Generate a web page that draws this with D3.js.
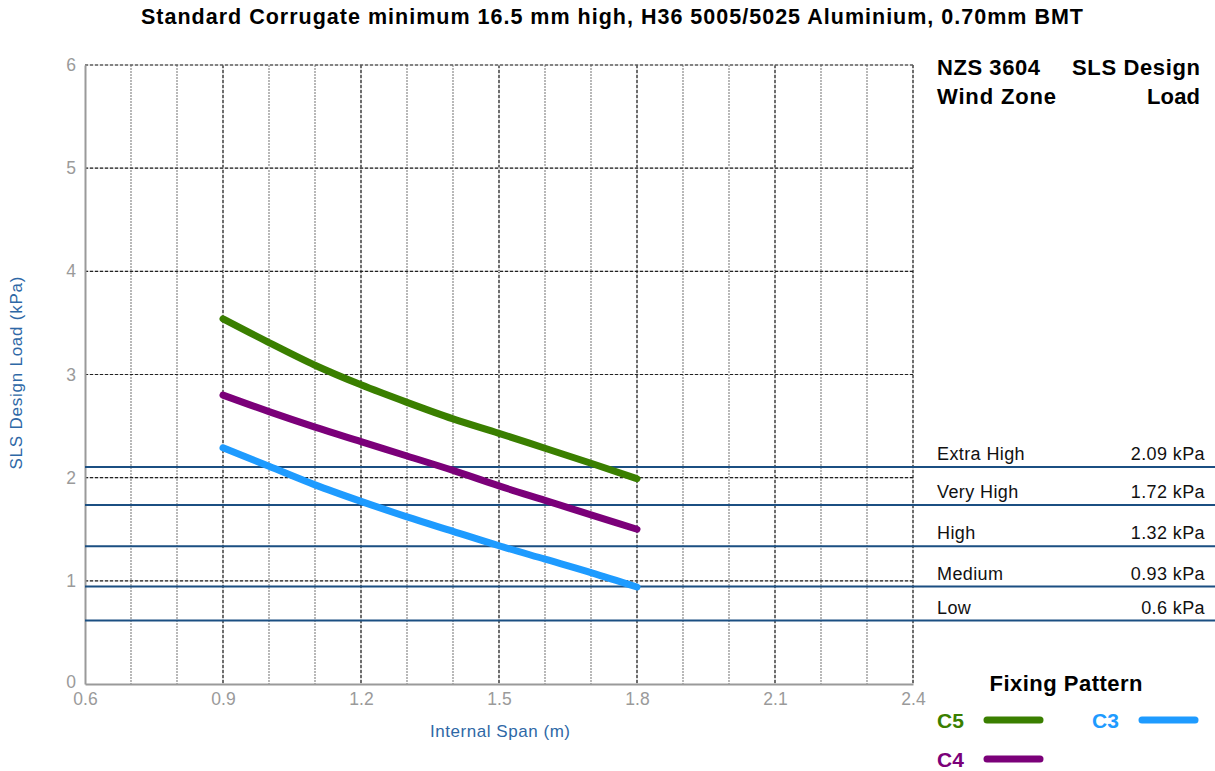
<!DOCTYPE html>
<html><head><meta charset="utf-8">
<script src="https://cdn.jsdelivr.net/npm/d3@7/dist/d3.min.js"></script>
<style>body{margin:0;background:#fff;}svg{display:block;font-family:"Liberation Sans",Arial,Helvetica,sans-serif;}</style>
</head><body>
<svg id="c" width="1215" height="771"></svg>
<script>
const spans = [0.9, 1.0, 1.1, 1.2, 1.3, 1.4, 1.5, 1.6, 1.7, 1.8];
const c5 = [3.54, 3.31, 3.09, 2.90, 2.73, 2.57, 2.43, 2.285, 2.14, 1.99];
const c4 = [2.80, 2.64, 2.49, 2.35, 2.21, 2.07, 1.92, 1.78, 1.64, 1.50];
const c3 = [2.29, 2.11, 1.93, 1.77, 1.62, 1.48, 1.34, 1.21, 1.08, 0.94];
const seriesNames = ["C5", "C4", "C3"];
const seriesColors = ["#3a7f00", "#7b0079", "#1e9bff"];
const zoneNames = ["Extra High", "Very High", "High", "Medium", "Low"];
const zoneValues = [2.09, 1.72, 1.32, 0.93, 0.6];
const zoneLabels = ["2.09 kPa", "1.72 kPa", "1.32 kPa", "0.93 kPa", "0.6 kPa"];
const xTicks = [0.6, 0.9, 1.2, 1.5, 1.8, 2.1, 2.4];
const yTicks = [0, 1, 2, 3, 4, 5, 6];
const title = "Standard Corrugate minimum 16.5 mm high, H36 5005/5025 Aluminium, 0.70mm BMT";

const svg = d3.select("#c");
const x = d3.scaleLinear().domain([0.6, 2.4]).range([85, 913]);
const y = d3.scaleLinear().domain([0, 6]).range([684, 65]);

// title
svg.append("text").attr("x", 612).attr("y", 24).attr("text-anchor", "middle")
  .attr("font-size", 21.5).attr("font-weight", "bold").attr("fill", "#000")
  .attr("textLength", 942).attr("lengthAdjust", "spacing").text(title);

// minor vertical grid
const minor = d3.range(7, 24).map(d => d / 10).filter(v => Math.abs(v * 10 % 3) > 0.01 && Math.abs((v*10)%3-3)>0.01);
const g = svg.append("g");
g.selectAll(".vmin").data(minor).join("line")
  .attr("x1", d => x(d)).attr("x2", d => x(d)).attr("y1", y(6)).attr("y2", y(0))
  .attr("stroke", "#8a8a8a").attr("stroke-width", 1.2).attr("stroke-dasharray", "2,1");
// major vertical grid
g.selectAll(".vmaj").data(xTicks.slice(1)).join("line")
  .attr("x1", d => x(d)).attr("x2", d => x(d)).attr("y1", y(6)).attr("y2", y(0))
  .attr("stroke", "#ccc").attr("stroke-width", 1.2);
g.selectAll(".vmaj2").data(xTicks.slice(1)).join("line")
  .attr("x1", d => x(d)).attr("x2", d => x(d)).attr("y1", y(6)).attr("y2", y(0))
  .attr("stroke", "#222").attr("stroke-width", 1.2).attr("stroke-dasharray", "3,2");
// horizontal grid
g.selectAll(".hg").data(yTicks.slice(1)).join("line")
  .attr("x1", x(0.6)).attr("x2", x(2.4)).attr("y1", d => y(d)).attr("y2", d => y(d))
  .attr("stroke", "#ccc").attr("stroke-width", 1.2);
g.selectAll(".hg2").data(yTicks.slice(1)).join("line")
  .attr("x1", x(0.6)).attr("x2", x(2.4)).attr("y1", d => y(d)).attr("y2", d => y(d))
  .attr("stroke", "#222").attr("stroke-width", 1.2).attr("stroke-dasharray", "3,2");

// axes
const yAxis = svg.append("g").attr("transform", `translate(${x(0.6)},0)`)
  .call(d3.axisLeft(y).tickValues(yTicks).tickFormat(d3.format("d")).tickSize(0).tickPadding(9));
const xAxis = svg.append("g").attr("transform", `translate(0,${y(0)})`)
  .call(d3.axisBottom(x).tickValues(xTicks).tickFormat(d3.format(".1f")).tickSize(0).tickPadding(9));
[xAxis, yAxis].forEach(a => {
  a.select(".domain").attr("stroke", "#9a9a9a").attr("stroke-width", 2);
  a.selectAll("text").attr("fill", "#9a9a9a").attr("font-size", 17.5)
    .attr("font-family", '"Liberation Sans",Arial,sans-serif');
});
yAxis.selectAll(".tick text").filter(d => d === 0).attr("dy", "0.2em");

// wind zone lines
const zl = svg.append("g");
zl.selectAll("line").data(zoneValues).join("line")
  .attr("x1", x(0.6)).attr("x2", 1215).attr("y1", d => y(d) - 1.5).attr("y2", d => y(d) - 1.5)
  .attr("stroke", "#1b4f82").attr("stroke-width", 2);
zl.selectAll(".zn").data(zoneNames).join("text")
  .attr("x", 937).attr("y", (d, i) => y(zoneValues[i]) - 8.5)
  .attr("font-size", 18).attr("letter-spacing", 0.4).attr("fill", "#111").text(d => d);
zl.selectAll(".zv").data(zoneLabels).join("text")
  .attr("x", 1205).attr("y", (d, i) => y(zoneValues[i]) - 8.5).attr("text-anchor", "end")
  .attr("font-size", 18).attr("letter-spacing", 0.4).attr("fill", "#111").text(d => d);

// series lines
const allSeries = [c5, c4, c3];
const line = d3.line().x((d, i) => x(spans[i])).y(d => y(d)).curve(d3.curveMonotoneX);
svg.append("g").selectAll("path").data(allSeries).join("path")
  .attr("d", d => line(d)).attr("fill", "none")
  .attr("stroke", (d, i) => seriesColors[i]).attr("stroke-width", 7)
  .attr("stroke-linecap", "round").attr("stroke-linejoin", "round");

// axis titles
svg.append("text").attr("x", 500).attr("y", 737).attr("text-anchor", "middle")
  .attr("font-size", 17).attr("fill", "#2e68a6")
  .attr("textLength", 140).attr("lengthAdjust", "spacing").text("Internal Span (m)");
svg.append("text").attr("transform", "translate(22,373) rotate(-90)").attr("text-anchor", "middle")
  .attr("font-size", 17).attr("fill", "#2e68a6")
  .attr("textLength", 193).attr("lengthAdjust", "spacing").text("SLS Design Load (kPa)");

// right header
const hd = svg.append("g").attr("font-size", 22).attr("font-weight", "bold").attr("fill", "#000");
hd.append("text").attr("x", 937).attr("y", 75).attr("textLength", 103).attr("lengthAdjust", "spacing").text("NZS 3604");
hd.append("text").attr("x", 1200).attr("y", 75).attr("text-anchor", "end").attr("textLength", 128).attr("lengthAdjust", "spacing").text("SLS Design");
hd.append("text").attr("x", 937).attr("y", 104).attr("textLength", 119).attr("lengthAdjust", "spacing").text("Wind Zone");
hd.append("text").attr("x", 1200).attr("y", 104).attr("text-anchor", "end").attr("textLength", 53).attr("lengthAdjust", "spacing").text("Load");

// legend
svg.append("text").attr("x", 1066).attr("y", 691).attr("text-anchor", "middle")
  .attr("font-size", 22).attr("font-weight", "bold").attr("fill", "#000")
  .attr("textLength", 153).attr("lengthAdjust", "spacing").text("Fixing Pattern");
const legPos = [[937, 720], [937, 759], [1092, 720]];
const lg = svg.append("g");
seriesNames.forEach((n, i) => {
  const [lx, ly] = legPos[i];
  lg.append("text").attr("x", lx).attr("y", ly + 7.5).attr("font-size", 21).attr("font-weight", "bold")
    .attr("fill", seriesColors[i]).text(n);
  lg.append("line").attr("x1", lx + 50).attr("x2", lx + 103).attr("y1", ly).attr("y2", ly)
    .attr("stroke", seriesColors[i]).attr("stroke-width", 7).attr("stroke-linecap", "round");
});
</script>
</body></html>
